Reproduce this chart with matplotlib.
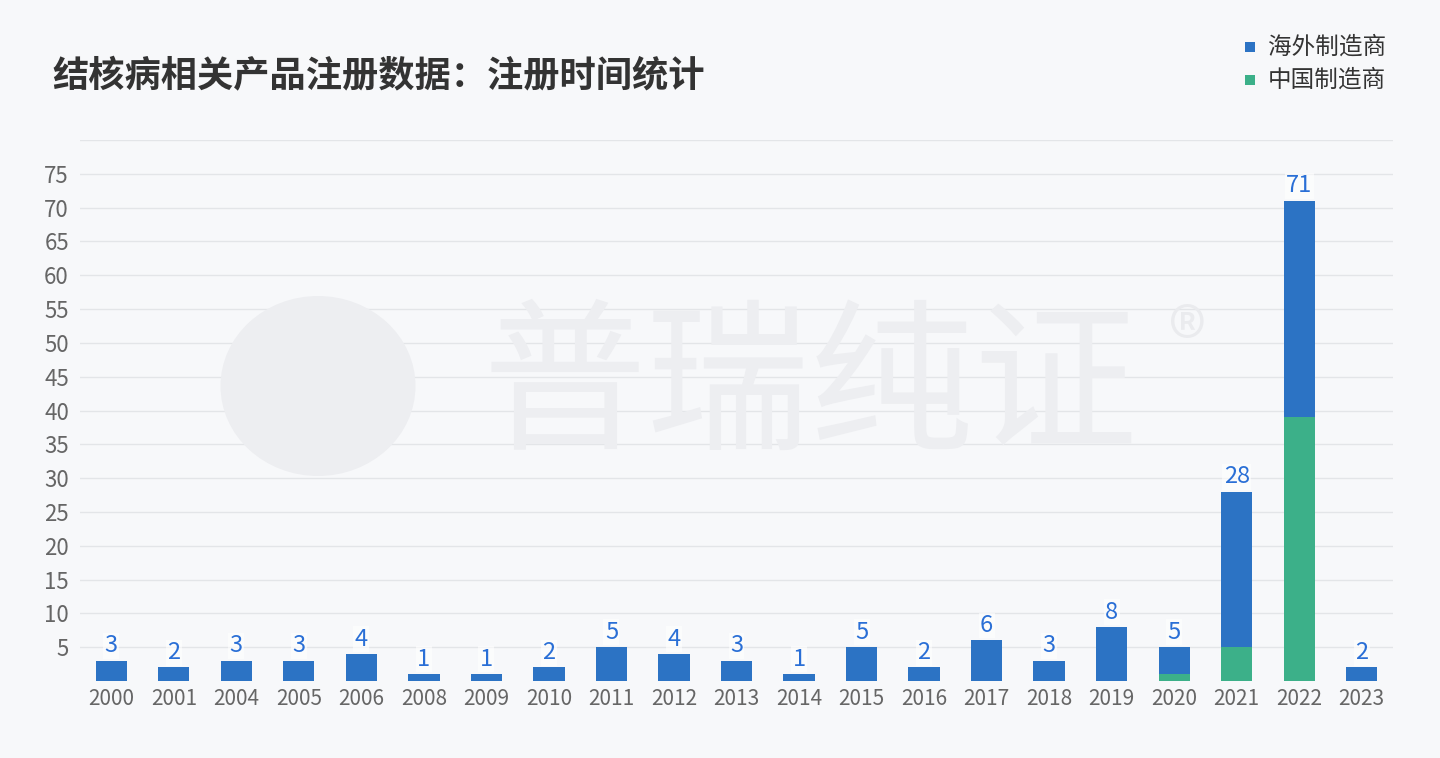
import matplotlib.pyplot as plt
from matplotlib.patches import Ellipse
import numpy as np

plt.rcParams['font.family'] = ['Noto Sans CJK SC', 'DejaVu Sans']

# data
years = ["2000", "2001", "2004", "2005", "2006", "2008", "2009", "2010", "2011", "2012",
         "2013", "2014", "2015", "2016", "2017", "2018", "2019", "2020", "2021", "2022", "2023"]
totals = [3, 2, 3, 3, 4, 1, 1, 2, 5, 4, 3, 1, 5, 2, 6, 3, 8, 5, 28, 71, 2]
china = [0, 0, 0, 0, 0, 0, 0, 0, 0, 0, 0, 0, 0, 0, 0, 0, 0, 1, 5, 39, 0]
overseas = [t - c for t, c in zip(totals, china)]
yticks = [5, 10, 15, 20, 25, 30, 35, 40, 45, 50, 55, 60, 65, 70, 75]

bg = "#F7F8FA"
blue = "#2C73C4"
green = "#3CB089"
wm = "#EDEEF1"

fig = plt.figure(figsize=(14.4, 7.58), dpi=100, facecolor=bg)

# watermark (faint logo + name)
fig.patches.append(Ellipse((318/1440, 1-386/758), 195/1440, 180/758, transform=fig.transFigure,
                           facecolor=wm, edgecolor="none", zorder=0))
fig.text(810/1440, 1-390/758, "普瑞纯证", fontsize=118, color=wm, ha="center", va="center",
         fontweight="normal", zorder=0)
fig.text(1187/1440, 1-344/758, "®", fontsize=56, color="#EAEBEE", ha="center", va="center", zorder=0)

ax = fig.add_axes([80/1440, 1-681/758, 1313/1440, 541/758])
ax.set_facecolor("none")
x = np.arange(len(years))
ax.bar(x, china, width=0.5, color=green, zorder=3)
ax.bar(x, overseas, width=0.5, bottom=china, color=blue, zorder=3)

for xi, t in zip(x, totals):
    ax.text(xi, t + 0.5, str(t), ha="center", va="bottom", fontsize=17, color="#2A6FD6", zorder=4,
            bbox=dict(facecolor="white", edgecolor="none", alpha=0.6, pad=1))

ax.set_xlim(-0.5, len(years) - 0.5)
ax.set_ylim(0, 80)
ax.set_yticks(yticks + [80])
ax.set_yticklabels([str(v) for v in yticks] + [""])
ax.set_xticks(x)
ax.set_xticklabels(years)
ax.grid(axis="y", color="#E3E5E8", linewidth=1, zorder=0)
for s in ax.spines.values():
    s.set_visible(False)
ax.tick_params(length=0, labelsize=15, colors="#666666", pad=5)
ax.tick_params(axis="y", labelsize=16, pad=8)

fig.text(52/1440, 1-77/758, "结核病相关产品注册数据：注册时间统计", fontsize=26.1, fontweight="bold",
         color="#333333", va="center", ha="left")

# legend
for yy, c, lab in [(47, blue, "海外制造商"), (80, green, "中国制造商")]:
    fig.patches.append(plt.Rectangle(((1250-5)/1440, 1-(yy+5)/758), 10/1440, 10/758,
                                     transform=fig.transFigure, facecolor=c, edgecolor="none"))
    fig.text(1268/1440, 1-yy/758, lab, fontsize=17, color="#333333", va="center", ha="left")

fig.savefig("out.png", dpi=100, facecolor=bg)
